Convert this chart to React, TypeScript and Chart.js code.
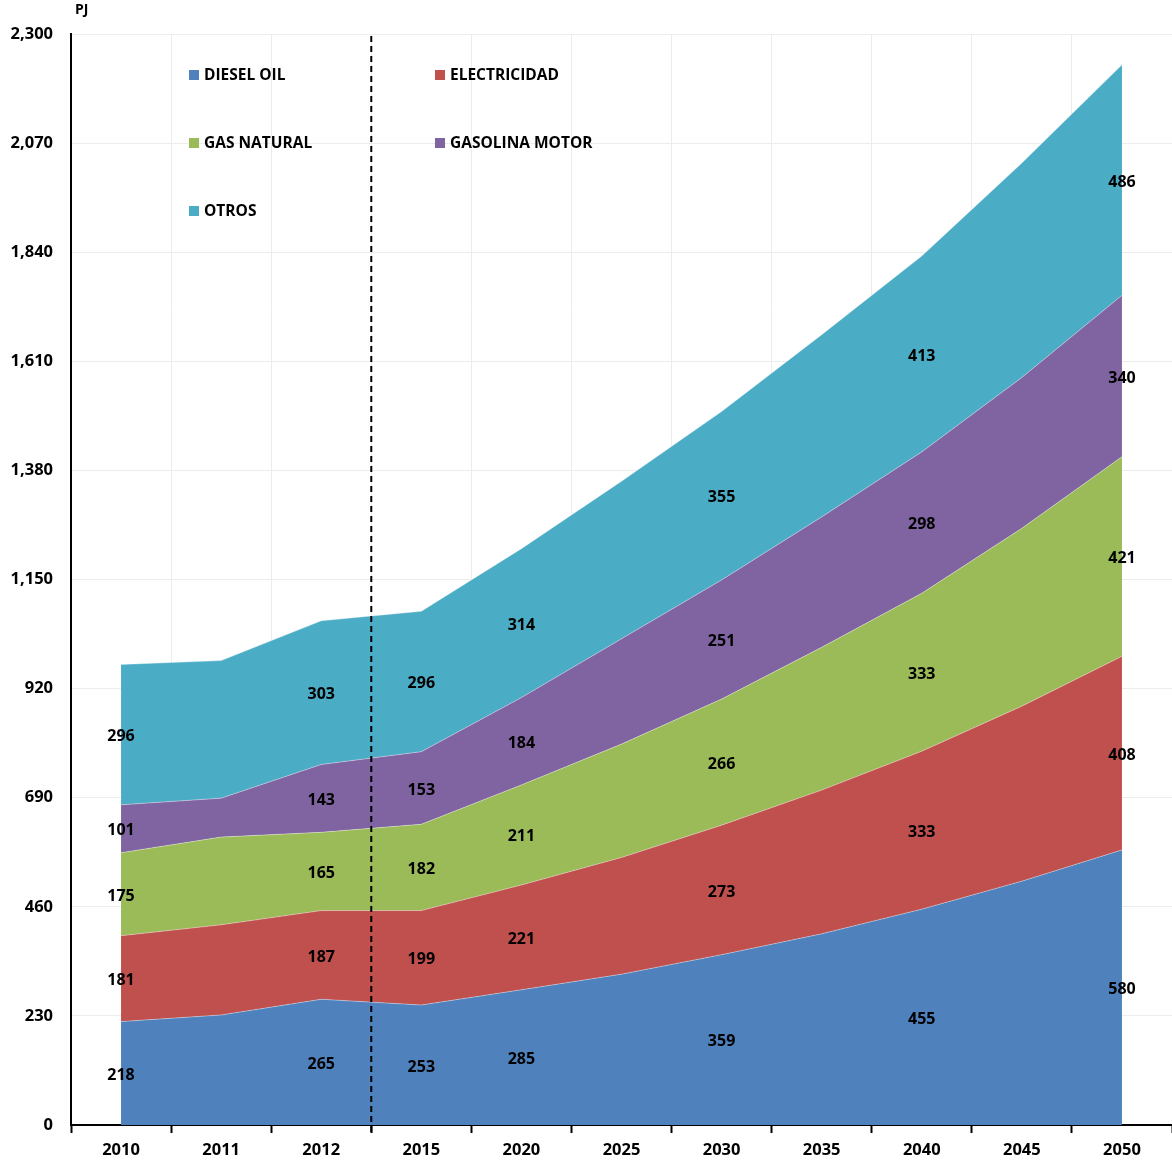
import React, { useEffect, useRef } from "react";
import { Chart, registerables } from "chart.js";

Chart.register(...registerables);

const years = ["2010", "2011", "2012", "2015", "2020", "2025", "2030", "2035", "2040", "2045", "2050"];
const diesel = [218, 232, 265, 253, 285, 318, 359, 403, 455, 514, 580];
const electricidad = [181, 190, 187, 199, 221, 246, 273, 303, 333, 369, 408];
const gasNatural = [175, 185, 165, 182, 211, 239, 266, 301, 333, 375, 421];
const gasolina = [101, 82, 143, 153, 184, 222, 251, 275, 298, 318, 340];
const otros = [296, 290, 303, 296, 314, 332, 355, 384, 413, 452, 486];
const labeledIdx = [0, 2, 3, 4, 6, 8, 10];
const seriesNames = ["DIESEL OIL", "ELECTRICIDAD", "GAS NATURAL", "GASOLINA MOTOR", "OTROS"];
const seriesColors = ["#4F81BD", "#C0504D", "#9BBB59", "#8064A2", "#4BACC6"];
const yTicks = [0, 230, 460, 690, 920, 1150, 1380, 1610, 1840, 2070, 2300];

const FONT = "'Open Sans', Lato, sans-serif";

const overlayPlugin = {
  id: "overlay",
  afterDatasetsDraw(chart: any) {
    const ctx = chart.ctx;
    const area = chart.chartArea;
    const xs = chart.scales.x;
    const ys = chart.scales.y;
    // data labels
    ctx.save();
    ctx.font = `bold 16px ${FONT}`;
    ctx.fillStyle = "#000";
    ctx.textAlign = "center";
    ctx.textBaseline = "middle";
    const base = years.map(() => 0);
    chart.data.datasets.forEach((ds: any) => {
      const vals = ds.data as number[];
      labeledIdx.forEach((i) => {
        const lo = base[i];
        const hi = lo + vals[i];
        const x = xs.getPixelForValue(i);
        const y = (ys.getPixelForValue(lo) + ys.getPixelForValue(hi)) / 2;
        ctx.fillText(String(vals[i]), x, y + 2);
      });
      vals.forEach((v, i) => (base[i] += v));
    });
    ctx.restore();

    // dashed divider
    const xd = (xs.getPixelForValue(2) + xs.getPixelForValue(3)) / 2;
    ctx.save();
    ctx.strokeStyle = "#000";
    ctx.lineWidth = 2;
    ctx.setLineDash([6, 4]);
    ctx.beginPath();
    ctx.moveTo(xd, area.top + 2);
    ctx.lineTo(xd, area.bottom + 10);
    ctx.stroke();
    ctx.restore();

    // legend
    ctx.save();
    ctx.font = `bold 15.5px ${FONT}`;
    ctx.textAlign = "left";
    ctx.textBaseline = "middle";
    seriesNames.forEach((name, k) => {
      const col = k % 2;
      const row = Math.floor(k / 2);
      const lx = area.left + 118 + col * 246;
      const ly = area.top + 41 + row * 68;
      ctx.fillStyle = seriesColors[k];
      ctx.fillRect(lx, ly - 5, 10, 10);
      ctx.fillStyle = "#000";
      ctx.fillText(name, lx + 15, ly + 1);
    });
    ctx.restore();

    // unit label
    ctx.save();
    ctx.font = `bold 14px ${FONT}`;
    ctx.fillStyle = "#000";
    ctx.textAlign = "left";
    ctx.textBaseline = "middle";
    ctx.fillText("PJ", area.left + 4, 10);
    ctx.restore();
  },
};

export default function App() {
  const ref = useRef<HTMLCanvasElement | null>(null);
  useEffect(() => {
    if (!ref.current) return;
    const series = [diesel, electricidad, gasNatural, gasolina, otros];
    const chart = new Chart(ref.current, {
      type: "line",
      data: {
        labels: years,
        datasets: series.map((d, k) => ({
          label: seriesNames[k],
          data: d,
          backgroundColor: seriesColors[k],
          borderColor: "rgba(255,255,255,0.35)",
          borderWidth: 1,
          pointRadius: 0,
          fill: k === 0 ? "origin" : "-1",
          tension: 0,
        })),
      },
      options: {
        animation: false,
        responsive: false,
        maintainAspectRatio: false,
        layout: { padding: { top: 34, right: 0, left: 0, bottom: 0 } },
        plugins: { legend: { display: false }, tooltip: { enabled: false } },
        scales: {
          x: {
            offset: true,
            grid: {
              offset: true,
              color: "#ececec",
              tickColor: "#000",
              tickWidth: 2,
              tickLength: 8,
            },
            border: { display: true, color: "#000", width: 2 },
            ticks: { color: "#000", font: { family: FONT, weight: "bold", size: 16.5 }, padding: 7 },
            afterFit: (s: any) => {
              s.height = 37;
            },
          },
          y: {
            stacked: true,
            min: 0,
            max: 2300,
            afterBuildTicks: (s: any) => {
              s.ticks = yTicks.map((v) => ({ value: v }));
            },
            grid: { color: "#ececec", drawTicks: false },
            border: { display: true, color: "#000", width: 2 },
            ticks: {
              color: "#000",
              font: { family: FONT, weight: "bold", size: 16.5 },
              padding: 18,
              callback: (v: any) => Number(v).toLocaleString("en-US"),
            },
            afterFit: (s: any) => {
              s.width = 71;
            },
          },
        },
      },
      plugins: [overlayPlugin],
    });
    return () => chart.destroy();
  }, []);
  return (
    <div style={{ position: "absolute", left: 0, top: 0, width: 1172, height: 1162, background: "#fff" }}>
      <canvas ref={ref} width={1172} height={1162} />
    </div>
  );
}
